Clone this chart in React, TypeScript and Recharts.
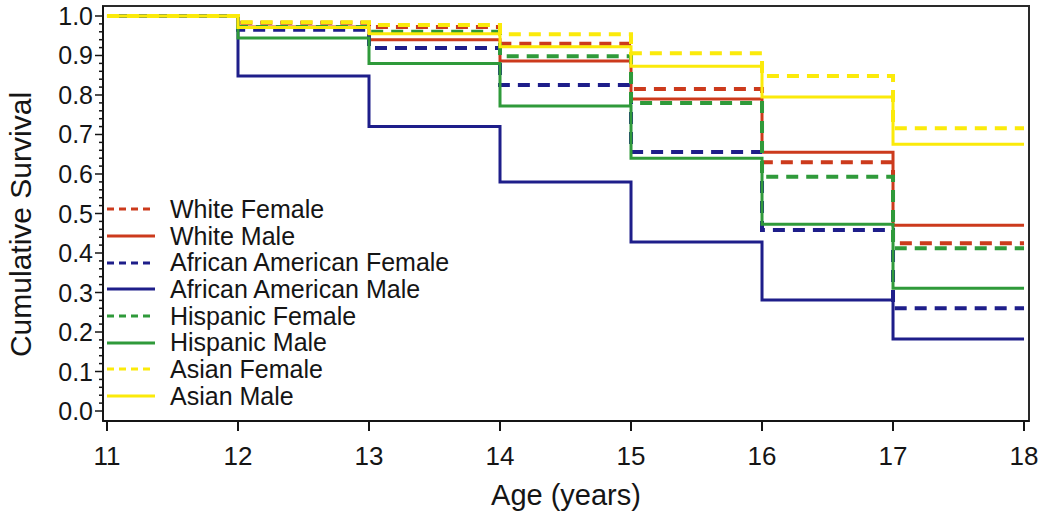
import { Label, Legend, Line, LineChart, ReferenceArea, XAxis, YAxis } from "recharts";

const FONT = '"Liberation Sans", Arial, Helvetica, sans-serif';
const INK = "#151515";

// ages at which the survival curves step
const AGES = [11, 12, 13, 14, 15, 16, 17, 18];

// cumulative survival, value held from each age until the next one
const WHITE_FEMALE = [1, 0.983, 0.972, 0.93, 0.815, 0.63, 0.425, 0.425];
const WHITE_MALE = [1, 0.972, 0.94, 0.886, 0.79, 0.655, 0.47, 0.47];
const AA_FEMALE = [1, 0.965, 0.919, 0.825, 0.656, 0.458, 0.26, 0.26];
const AA_MALE = [1, 0.848, 0.72, 0.58, 0.428, 0.281, 0.182, 0.182];
const HISP_FEMALE = [1, 0.972, 0.96, 0.898, 0.78, 0.593, 0.412, 0.412];
const HISP_MALE = [1, 0.944, 0.88, 0.772, 0.64, 0.473, 0.311, 0.311];
const ASIAN_FEMALE = [1, 0.984, 0.977, 0.954, 0.906, 0.848, 0.716, 0.716];
const ASIAN_MALE = [1, 0.971, 0.955, 0.922, 0.873, 0.795, 0.675, 0.675];

const Y_MAJOR_TICKS = [0, 0.1, 0.2, 0.3, 0.4, 0.5, 0.6, 0.7, 0.8, 0.9, 1.0];

const RED = "#cc3a1c";
const NAVY = "#1e1e8a";
const GREEN = "#2f9a3a";
const YELLOW = "#fbea0a";

const SERIES = [
  { key: "wf", name: "White Female", color: RED, dashed: true, values: WHITE_FEMALE },
  { key: "wm", name: "White Male", color: RED, dashed: false, values: WHITE_MALE },
  { key: "af", name: "African American Female", color: NAVY, dashed: true, values: AA_FEMALE },
  { key: "am", name: "African American Male", color: NAVY, dashed: false, values: AA_MALE },
  { key: "hf", name: "Hispanic Female", color: GREEN, dashed: true, values: HISP_FEMALE },
  { key: "hm", name: "Hispanic Male", color: GREEN, dashed: false, values: HISP_MALE },
  { key: "sf", name: "Asian Female", color: YELLOW, dashed: true, values: ASIAN_FEMALE },
  { key: "sm", name: "Asian Male", color: YELLOW, dashed: false, values: ASIAN_MALE },
];

const data = AGES.map((age, i) => {
  const row: Record<string, number> = { age };
  SERIES.forEach((s) => {
    row[s.key] = s.values[i];
  });
  return row;
});

// 4 minor ticks between every pair of labelled ones
const Y_ALL_TICKS = Y_MAJOR_TICKS.flatMap((t, i) =>
  i === Y_MAJOR_TICKS.length - 1 ? [t] : [0, 1, 2, 3, 4].map((k) => +(t + k * 0.02).toFixed(2))
);

const X_DOMAIN: [number, number] = [10.9695, 18.038];
const Y_DOMAIN: [number, number] = [-0.0253, 1.0253];

function YTick({ x, y, payload }: any) {
  const v = payload.value as number;
  const major = Math.abs(v * 10 - Math.round(v * 10)) < 1e-6;
  return (
    <g>
      <line x1={x - (major ? 8 : 4)} x2={x} y1={y} y2={y} stroke={INK} strokeWidth={1.5} />
      {major && (
        <text x={x - 10} y={y} dy="0.36em" textAnchor="end" fontSize={25} fontFamily={FONT} fill={INK}>
          {v.toFixed(1)}
        </text>
      )}
    </g>
  );
}

function YTitle({ viewBox }: any) {
  const cy = viewBox.y + viewBox.height / 2 + 11;
  return (
    <text
      x={20}
      y={cy}
      transform={`rotate(-90 20 ${cy})`}
      textAnchor="middle"
      dy="0.36em"
      fontSize={30}
      fontFamily={FONT}
      fill={INK}
    >
      Cumulative Survival
    </text>
  );
}

function LegendBox() {
  return (
    <div style={{ fontFamily: FONT, fontSize: 25, color: INK }}>
      {SERIES.map((s) => (
        <div key={s.key} style={{ display: "flex", alignItems: "center", height: 26.7 }}>
          <svg width={50} height={10} style={{ display: "block" }}>
            <line
              x1={1}
              x2={49}
              y1={5}
              y2={5}
              stroke={s.color}
              strokeWidth={3}
              strokeDasharray={s.dashed ? "7 5" : undefined}
            />
          </svg>
          <span style={{ marginLeft: 14, whiteSpace: "nowrap" }}>{s.name}</span>
        </div>
      ))}
    </div>
  );
}

export default function App() {
  return (
    <div style={{ position: "absolute", left: 0, top: 0, background: "#fff" }}>
      <LineChart width={1050} height={523} data={data} margin={{ top: 6, right: 21, bottom: 0, left: 0 }}>
        <XAxis
          dataKey="age"
          type="number"
          domain={X_DOMAIN}
          allowDataOverflow
          ticks={AGES}
          height={102}
          tickSize={10}
          tickMargin={16}
          stroke={INK}
          strokeWidth={2}
          tick={{ fontSize: 26, fontFamily: FONT, fill: INK }}
        >
          <Label
            value="Age (years)"
            position="insideBottom"
            offset={18}
            fontSize={29}
            fontFamily={FONT}
            fill={INK}
          />
        </XAxis>
        <YAxis
          type="number"
          domain={Y_DOMAIN}
          allowDataOverflow
          ticks={Y_ALL_TICKS}
          interval={0}
          width={103}
          tickSize={0}
          tickMargin={0}
          stroke={INK}
          strokeWidth={2}
          tick={<YTick />}
        >
          <Label content={<YTitle />} />
        </YAxis>
        <ReferenceArea
          x1={X_DOMAIN[0]}
          x2={X_DOMAIN[1]}
          y1={Y_DOMAIN[0]}
          y2={Y_DOMAIN[1]}
          fill="none"
          stroke="#2a2a2a"
          strokeWidth={2}
        />
        <Legend
          layout="vertical"
          align="center"
          verticalAlign="middle"
          content={<LegendBox />}
          wrapperStyle={{ left: 106, top: 196, width: 440, height: 216 }}
        />
        {SERIES.map((s) => (
          <Line
            key={s.key}
            dataKey={s.key}
            name={s.name}
            type="stepAfter"
            stroke={s.color}
            strokeWidth={s.dashed ? 4 : 3}
            strokeDasharray={s.dashed ? "12 8" : undefined}
            dot={false}
            activeDot={false}
            isAnimationActive={false}
          />
        ))}
      </LineChart>
    </div>
  );
}
